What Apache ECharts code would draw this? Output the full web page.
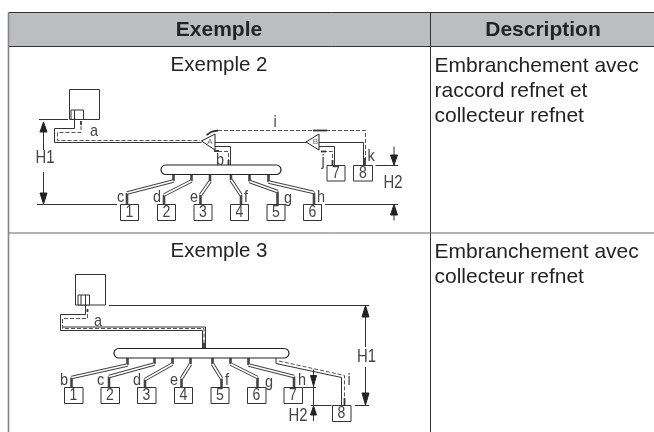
<!DOCTYPE html>
<html>
<head>
<meta charset="utf-8">
<style>html,body{margin:0;padding:0;background:#fff}#main{width:654px;height:432px}</style>
<script src="https://cdn.jsdelivr.net/npm/echarts@6/dist/echarts.min.js"></script>
</head>
<body>
<div id="main"></div>
<script>
// table text
var headerLabels = [['Exemple', 219, 30.5], ['Description', 543, 30.5]];
var exampleTitles = [['Exemple 2', 219, 65.5], ['Exemple 3', 219, 251.5]];
var descLines = [
    ['Embranchement avec', 434.5, 66], ['raccord refnet et', 434.5, 91], ['collecteur refnet', 434.5, 116],
    ['Embranchement avec', 434.5, 252], ['collecteur refnet', 434.5, 277]
];
var tableLines = [
    [[8.5, 12.5], [654, 12.5]], [[8.5, 46.5], [654, 46.5]], [[430.5, 12.5], [430.5, 432]]
];
var headerBand = [[8.5, 12.5, 645.5, 34]];

// example 2 drawing
var boxes = [
    [69.5, 89.5, 30, 30], [71, 110, 12.5, 9.5],
    [120.5, 204.5, 18, 16], [157.5, 204.5, 18, 16], [194, 204.5, 18, 16],
    [230.5, 204.5, 18, 16], [267, 204.5, 18, 16], [303.5, 204.5, 18, 16],
    [327, 165.5, 18, 15.5], [353.5, 165.5, 19, 15.5],
    // example 3
    [75.5, 274.5, 30, 30.5], [78, 295, 11.5, 10],
    [64.5, 387.5, 18.5, 16], [101, 387.5, 18.5, 16], [137.5, 387.5, 18.5, 16],
    [174.5, 387.5, 18, 16], [211, 387.5, 18, 16], [247.5, 387.5, 18.5, 16],
    [284, 387.5, 18.5, 16], [332.5, 405.5, 18.5, 16]
];
var boxDividers = [
    [[74.5, 110], [74.5, 119.5]], [[81, 295], [81, 305]], [[85.5, 295], [85.5, 305]]
];
var pills = [[161, 165, 120, 9.5], [114, 348.5, 175, 9.5]];
var boxNumbers = [
    ['1', 129.5, 212.5], ['2', 166.5, 212.5], ['3', 203, 212.5], ['4', 239.5, 212.5], ['5', 276, 212.5], ['6', 312.5, 212.5],
    ['7', 336, 173.5], ['8', 363, 173.5],
    ['1', 73.5, 395.5], ['2', 110, 395.5], ['3', 146.5, 395.5], ['4', 183.5, 395.5], ['5', 220, 395.5], ['6', 256.5, 395.5],
    ['7', 293, 395.5], ['8', 341.5, 413.5]
];
var pipeLabels = [
    ['a', 94, 131], ['b', 220, 160], ['c', 120.5, 197], ['d', 157, 197], ['e', 194, 197], ['f', 246, 197],
    ['g', 288, 198], ['h', 321, 197], ['i', 275, 122], ['j', 323, 161], ['k', 371, 156.5],
    ['a', 98, 321.5], ['b', 64, 380.5], ['c', 100.5, 380.5], ['d', 137, 380.5], ['e', 174, 380.5], ['f', 227, 380.5],
    ['g', 269, 382], ['h', 302, 380.5], ['i', 349, 380.5]
];
var dimLabels = [['H1', 45, 158], ['H2', 393, 183], ['H1', 366.5, 357.5], ['H2', 298, 416.5]];
var valveLabels = [['A', 210, 141.5], ['B', 315.5, 141.5]];
var valves = [
    [[201.5, 141], [215, 134], [215, 150]],
    [[306, 142], [319, 134], [319, 150]]
];
var solidPipes = [
    [[74.5, 119], [74.5, 128.5], [54.5, 128.5], [54.5, 142.5], [201.5, 142.5]],
    [[215, 142.5], [306, 142.5]],
    [[319, 142.5], [363.5, 142.5], [363.5, 165]],
    [[215, 146.5], [230.5, 146.5], [230.5, 165]],
    [[319, 146.5], [334.5, 146.5], [334.5, 165]],
    [[85.5, 305], [85.5, 314.5], [60.5, 314.5], [60.5, 330.5], [202.5, 330.5], [202.5, 348.5]],
    [[62, 327], [205.5, 327], [205.5, 348.5]],
    [[276, 358], [276, 363.5], [341.5, 377.5], [341.5, 405.5]]
];
var dashedPipes = [
    [[81, 126], [81, 132.5], [57.5, 132.5], [57.5, 140.5], [200, 140.5]],
    [[218, 130.5], [365.5, 130.5], [365.5, 160]],
    [[218, 151.5], [228.5, 151.5], [228.5, 162]],
    [[323, 151.5], [332.5, 151.5], [332.5, 162]],
    [[87.5, 314], [87.5, 318.5], [62.5, 318.5], [62.5, 328.5], [204, 328.5], [204, 345]],
    [[279, 361], [344.5, 375.5], [344.5, 400]]
];
var heavyStubs = [
    [[206.5, 135], [212, 131.5], [218, 130.5]], [[313, 130.5], [327, 130.5]],
    [[214, 151], [219, 151]], [[321, 151.5], [326, 151.5]],
    [[81, 121], [81, 125]], [[87.5, 309], [87.5, 312]],
    [[228.5, 160], [228.5, 165]], [[332.5, 160], [332.5, 165]], [[365, 158], [365, 165]],
    [[204, 343], [204, 348]], [[344.5, 398], [344.5, 405]]
];
// pill end, two bends, box end
var branches = [
    [[173.5, 174.5], [173.5, 181], [127, 193], [127, 204]],
    [[191.5, 174.5], [191.5, 181], [164, 195], [164, 204]],
    [[210, 174.5], [210, 181.5], [200.5, 195], [200.5, 204]],
    [[231, 174.5], [231, 180], [241, 195], [241, 204]],
    [[249.5, 174.5], [249.5, 181.5], [277.5, 191.5], [277.5, 204]],
    [[268.5, 174.5], [268.5, 182], [314, 192.5], [314, 204]],
    [[127.5, 358], [127.5, 365], [71.5, 377.5], [71.5, 387.5]],
    [[154.5, 358], [154.5, 364], [109, 376.5], [109, 387.5]],
    [[172.5, 358], [172.5, 364], [145, 379.5], [145, 387.5]],
    [[190.5, 358], [190.5, 364], [181.5, 378.5], [181.5, 387.5]],
    [[212.5, 358], [212.5, 364], [221.5, 378.5], [221.5, 387.5]],
    [[230.5, 358], [230.5, 364], [257.5, 377.5], [257.5, 387.5]],
    [[248.5, 358], [248.5, 365], [294, 376.5], [294, 387.5]]
];
var leaderLines = [
    [[39, 119.5], [68, 119.5]], [[37, 204.5], [117, 204.5]],
    [[43.5, 132], [43.5, 150]], [[43.5, 172], [43.5, 193]],
    [[375.5, 165.5], [398, 165.5]], [[325, 204.5], [398, 204.5]],
    [[394, 146.5], [394, 155]], [[394, 215], [394, 220.5]],
    [[109, 305.5], [369, 305.5]], [[355, 405.5], [369, 405.5]],
    [[365.5, 317], [365.5, 347]], [[365.5, 367], [365.5, 393]],
    [[303, 387.5], [316, 387.5]], [[311, 405.5], [331.5, 405.5]],
    [[313.5, 369.5], [313.5, 376]], [[313.5, 385], [313.5, 406]], [[313.5, 415], [313.5, 421]]
];
var arrowHeads = [
    [[43.5, 122], [40, 132], [47, 132]], [[43.5, 204], [40, 193], [47, 193]],
    [[394, 165], [390.5, 155], [397.5, 155]], [[394, 204.5], [390.5, 215], [397.5, 215]],
    [[365.5, 305.5], [362, 317], [369, 317]], [[365.5, 405], [362, 393], [369, 393]],
    [[313.5, 386], [310.5, 375.5], [316.5, 375.5]], [[313.5, 406], [310.5, 415], [316.5, 415]]
];

var inkColor = '#232325';
var lineColor = '#333';
var fontName = '"Liberation Sans", Arial, sans-serif';

var myChart = echarts.init(document.getElementById('main'));

function pathSeries(path, color, width, dash, z) {
    return {
        type: 'line', data: path, silent: true, showSymbol: false, symbol: 'none', z: z, clip: false,
        lineStyle: { color: color, width: width, type: dash ? [4, 2] : 'solid', cap: 'butt', join: 'miter' }
    };
}

// 把一组文字画成 custom series
function textSeries(items, size, color, weight, align, squeeze) {
    return {
        type: 'custom', silent: true, z: 20, clip: false,
        encode: { x: 1, y: 2 },
        data: items,
        renderItem: function (params, api) {
            var p = api.coord([api.value(1), api.value(2)]);
            return {
                type: 'text', x: p[0], y: p[1], scaleX: squeeze || 1,
                style: {
                    text: items[params.dataIndex][0], fill: color, fontSize: size, fontWeight: weight,
                    fontFamily: fontName, align: align || 'center', verticalAlign: 'middle'
                }
            };
        }
    };
}

function rectSeries(items, fill, stroke, width, z, rounded) {
    return {
        type: 'custom', silent: true, z: z, clip: false,
        encode: { x: 0, y: 1 },
        data: items,
        renderItem: function (params, api) {
            var a = api.coord([api.value(0), api.value(1)]);
            var b = api.coord([api.value(0) + api.value(2), api.value(1) + api.value(3)]);
            return {
                type: 'rect',
                shape: { x: a[0], y: a[1], width: b[0] - a[0], height: b[1] - a[1], r: rounded ? (b[1] - a[1]) / 2 : 0 },
                style: { fill: fill, stroke: stroke, lineWidth: width }
            };
        }
    };
}

function polygonSeries(items, fill, stroke, z) {
    return {
        type: 'custom', silent: true, z: z, clip: false,
        encode: { x: 0, y: 1 },
        data: items.map(function (t) { return t[0]; }),
        renderItem: function (params, api) {
            var pts = items[params.dataIndex].map(function (q) { return api.coord(q); });
            return { type: 'polygon', shape: { points: pts }, style: { fill: fill, stroke: stroke, lineWidth: 1 } };
        }
    };
}

var series = [];
series.push(rectSeries(headerBand, '#bcbdc0', null, 0, 1));
tableLines.forEach(function (p) { series.push(pathSeries(p, lineColor, 1, false, 2)); });
series.push(pathSeries([[8.5, 233], [654, 233]], '#6a6a6a', 1, false, 2));
series.push(pathSeries([[8.5, 12.5], [8.5, 432]], '#858585', 1.6, false, 2));

solidPipes.forEach(function (p) { series.push(pathSeries(p, '#333', 1, false, 5)); });
dashedPipes.forEach(function (p) { series.push(pathSeries(p, '#555', 1, true, 5)); });
heavyStubs.forEach(function (p) { series.push(pathSeries(p, '#333', 1.8, false, 6)); });
branches.forEach(function (p) {
    series.push(pathSeries(p.slice(0, 2), '#444', 2.6, false, 5));
    series.push(pathSeries(p.slice(2, 4), '#444', 2.6, false, 5));
    series.push(pathSeries(p.slice(1, 3), '#444', 3.6, false, 5));
    series.push(pathSeries(p.slice(1, 3), '#fff', 1.6, false, 6));
});
leaderLines.forEach(function (p) { series.push(pathSeries(p, '#333', 1, false, 4)); });

series.push(rectSeries(boxes, '#fff', '#333', 1, 8));
boxDividers.forEach(function (p) { series.push(pathSeries(p, '#333', 1, false, 9)); });
series.push(rectSeries(pills, '#fff', '#222', 1.2, 8, true));
series.push(polygonSeries(valves, '#fff', '#222', 8));
series.push(polygonSeries(arrowHeads, '#222', '#222', 9));

series.push(textSeries(headerLabels, 21, inkColor, 'bold'));
series.push(textSeries(exampleTitles, 20.5, inkColor, 'normal'));
series.push(textSeries(descLines, 21, inkColor, 'normal', 'left'));
series.push(textSeries(boxNumbers, 16.5, '#444', 'normal', 'center', 0.85));
series.push(textSeries(pipeLabels, 17, '#444', 'normal', 'center', 0.85));
series.push(textSeries(dimLabels, 17.5, '#444', 'normal', 'center', 0.85));
series.push(textSeries(valveLabels, 8, '#666', 'normal'));

var option = {
    animation: false,
    backgroundColor: '#fff',
    grid: { left: 0, right: 0, top: 0, bottom: 0 },
    xAxis: { type: 'value', min: 0, max: 654, show: false },
    yAxis: { type: 'value', min: 0, max: 432, inverse: true, show: false },
    series: series
};

myChart.setOption(option);
</script>
</body>
</html>
